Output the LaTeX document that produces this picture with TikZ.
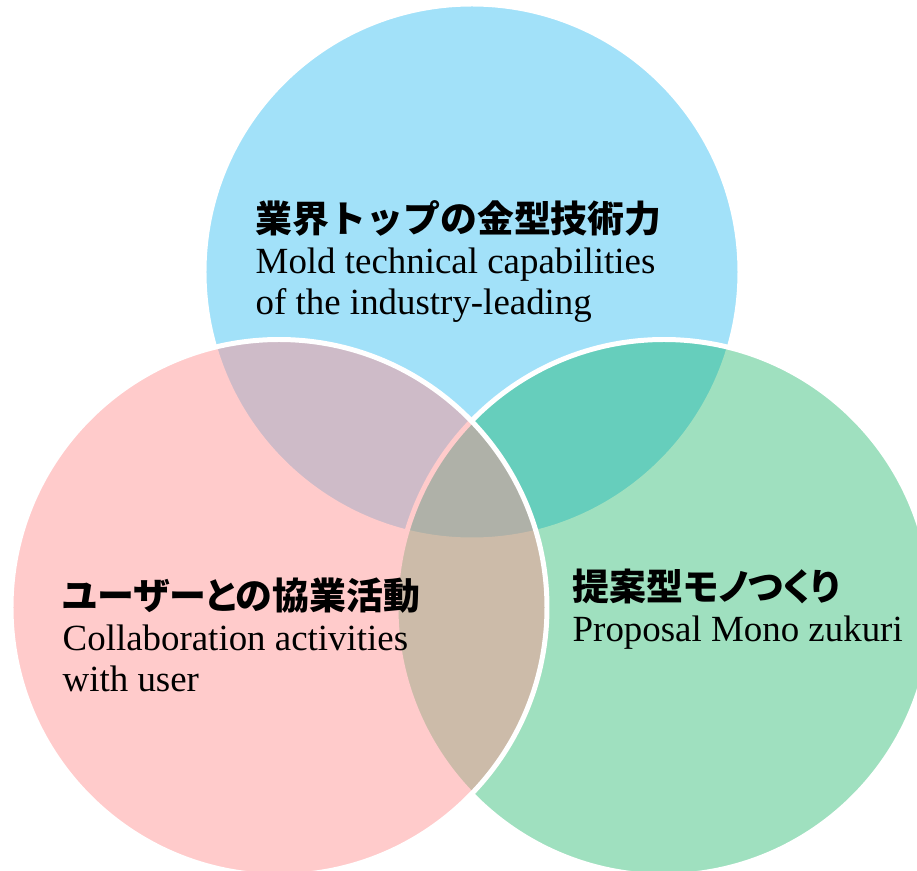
\documentclass[tikz,border=0pt]{standalone}
\usepackage{fontspec}
\setmainfont{Liberation Serif}
\newfontfamily\jpfont{Noto Sans CJK JP}
\newfontfamily\jppfont{Noto Sans CJK JP}[RawFeature=+palt]
\definecolor{skyblue}{HTML}{A2E1F9}
\definecolor{leafgreen}{HTML}{05B059}
\definecolor{rosepink}{HTML}{FF9393}
\newcommand{\jphead}[1]{{\jpfont\bfseries #1}}
\newcommand{\jpphead}[1]{{\jppfont\bfseries #1}}
\begin{document}
\begin{tikzpicture}[circ/.style={draw=white, line width=1.42pt},
		txt/.style={align=left, inner sep=0pt, anchor=base west, font=\fontsize{10.5}{11.7}\selectfont}]
	\useasboundingbox (0,0) rectangle (9.17,8.71);
	\fill[white] (0,0) rectangle (9.17,8.71);

	% three circles, top one opaque, the others blended over it
	\draw[circ, fill=skyblue] (4.72,5.99) circle (2.68);
	\draw[circ, fill=leafgreen, fill opacity=0.38] (6.64,2.635) circle (2.68);
	\draw[circ, fill=rosepink, fill opacity=0.48] (2.79,2.635) circle (2.68);

	% base west = baseline of the last line
	\node[txt] (mold) at (2.55,5.56) {\jphead{業界トップの金型技術力}\\Mold technical capabilities\\of the industry-leading};
	\node[txt] (collab) at (0.62,1.79) {\jpphead{ユーザーとの協業活動}\\Collaboration activities\\with user};
	\node[txt] (mono) at (5.72,2.29) {\jpphead{提案型モノつくり}\\Proposal Mono zukuri};
\end{tikzpicture}
\end{document}
